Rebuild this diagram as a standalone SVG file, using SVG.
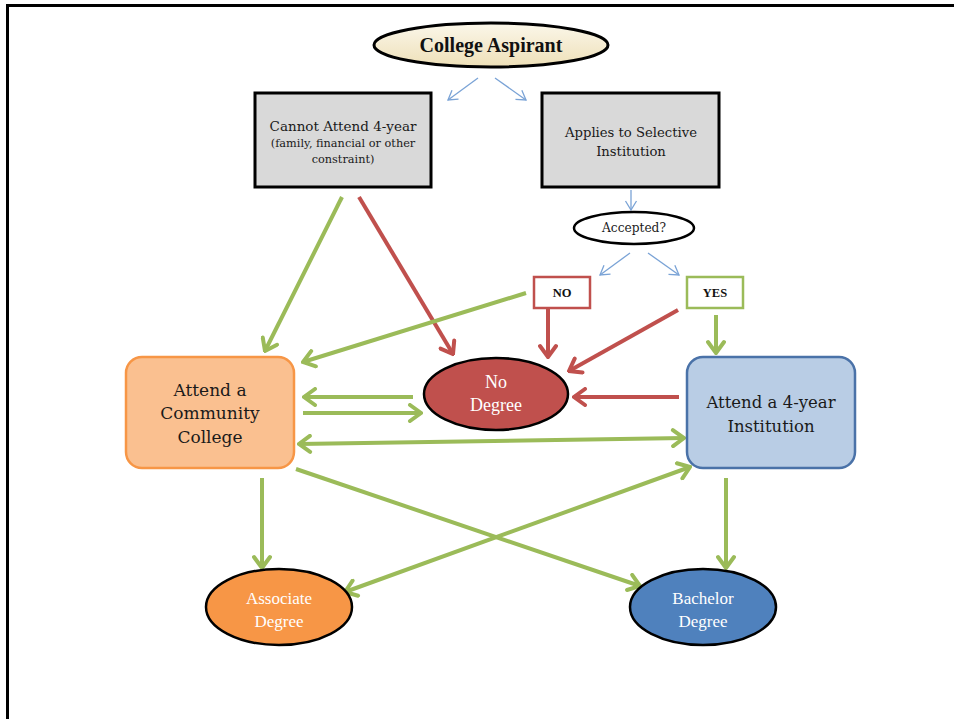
<svg xmlns="http://www.w3.org/2000/svg" width="954" height="719" viewBox="0 0 954 719">
<style>
.g{stroke:#9bbb59;stroke-width:4;fill:none}
.r{stroke:#c0504d;stroke-width:4;fill:none}
.b{stroke:#7aa3d6;stroke-width:1.3;fill:none}
.ds{font-family:"DejaVu Serif","Liberation Serif",serif;fill:#1a1a1a;text-anchor:middle}
.ls{font-family:"Liberation Serif","DejaVu Serif",serif;text-anchor:middle}
.w{fill:#fff}
</style>
<defs>
<linearGradient id="cream" x1="0" y1="0" x2="0" y2="1">
<stop offset="0" stop-color="#fbf7ea"/><stop offset="1" stop-color="#eee0b8"/>
</linearGradient>
<marker id="ag" markerUnits="userSpaceOnUse" viewBox="-14 -10 16 20" refX="0" refY="0" markerWidth="16" markerHeight="20" orient="auto-start-reverse">
<path d="M-11,-8 L0,0 L-11,8" fill="none" stroke="#9bbb59" stroke-width="4" stroke-linecap="round" stroke-linejoin="miter"/>
</marker>
<marker id="ar" markerUnits="userSpaceOnUse" viewBox="-14 -10 16 20" refX="0" refY="0" markerWidth="16" markerHeight="20" orient="auto">
<path d="M-11,-8 L0,0 L-11,8" fill="none" stroke="#c0504d" stroke-width="4" stroke-linecap="round"/>
</marker>
<marker id="ab" markerUnits="userSpaceOnUse" viewBox="-12 -8 14 16" refX="0" refY="0" markerWidth="14" markerHeight="16" orient="auto">
<path d="M-9,-5.5 L0,0 L-9,5.5" fill="none" stroke="#7aa3d6" stroke-width="1.3"/>
</marker>
</defs>
<rect width="954" height="719" fill="#fff"/>
<g id="frame" fill="none" stroke="#000">
<path d="M7.5,719 V5.5 H954" stroke-width="3"/>
</g>
<g id="connectors">
<line class="b" x1="478" y1="78" x2="448" y2="100" marker-end="url(#ab)"/>
<line class="b" x1="495" y1="78" x2="526" y2="100" marker-end="url(#ab)"/>
<line class="b" x1="631" y1="190" x2="631" y2="210" marker-end="url(#ab)"/>
<line class="b" x1="630" y1="253" x2="600" y2="275" marker-end="url(#ab)"/>
<line class="b" x1="648" y1="253" x2="679" y2="275" marker-end="url(#ab)"/>
<line class="g" x1="342" y1="197" x2="265" y2="351" marker-end="url(#ag)"/>
<line class="r" x1="359" y1="197" x2="453" y2="354" marker-end="url(#ar)"/>
<line class="g" x1="526" y1="293" x2="303" y2="362" marker-end="url(#ag)"/>
<line class="r" x1="548" y1="309" x2="548" y2="357" marker-end="url(#ar)"/>
<line class="r" x1="678" y1="310" x2="569" y2="371" marker-end="url(#ar)"/>
<line class="g" x1="716" y1="315" x2="716" y2="353" marker-end="url(#ag)"/>
<line class="r" x1="679" y1="397" x2="574" y2="397" marker-end="url(#ar)"/>
<line class="g" x1="413" y1="397" x2="304" y2="397" marker-end="url(#ag)"/>
<line class="g" x1="303" y1="413" x2="421" y2="413" marker-end="url(#ag)"/>
<line class="g" x1="299" y1="444" x2="684" y2="438" marker-start="url(#ag)" marker-end="url(#ag)"/>
<line class="g" x1="262" y1="478" x2="262" y2="568" marker-end="url(#ag)"/>
<line class="g" x1="296" y1="469" x2="640" y2="586" marker-end="url(#ag)"/>
<line class="g" x1="345" y1="592" x2="690" y2="467" marker-start="url(#ag)" marker-end="url(#ag)"/>
<line class="g" x1="726" y1="478" x2="726" y2="568" marker-end="url(#ag)"/>
</g>
<g id="college-aspirant">
<ellipse cx="491" cy="45" rx="117" ry="22" fill="url(#cream)" stroke="#000" stroke-width="3"/>
<text class="ls" x="491" y="52" font-size="20" font-weight="bold" fill="#111">College Aspirant</text>
</g>
<g id="cannot-attend">
<rect x="255" y="93" width="176" height="94" fill="#d9d9d9" stroke="#000" stroke-width="3"/>
<text class="ds" x="343" y="131" font-size="13.5">Cannot Attend 4-year</text>
<text class="ds" x="343" y="147" font-size="11.3">(family, financial or other</text>
<text class="ds" x="343" y="163" font-size="11.3">constraint)</text>
</g>
<g id="applies">
<rect x="542" y="93" width="177" height="94" fill="#d9d9d9" stroke="#000" stroke-width="3"/>
<text class="ds" x="631" y="137" font-size="13.2">Applies to Selective</text>
<text class="ds" x="631" y="156" font-size="13.2">Institution</text>
</g>
<g id="accepted">
<ellipse cx="634" cy="228" rx="60" ry="16" fill="#fff" stroke="#000" stroke-width="2.5"/>
<text class="ds" x="634" y="232" font-size="12.2">Accepted?</text>
</g>
<g id="no">
<rect x="534" y="277" width="56" height="31" fill="#fff" stroke="#c0504d" stroke-width="2.5"/>
<text class="ls" x="562" y="297" font-size="12.5" font-weight="bold" fill="#111">NO</text>
</g>
<g id="yes">
<rect x="687" y="277" width="56" height="31" fill="#fff" stroke="#9bbb59" stroke-width="2.5"/>
<text class="ls" x="715" y="297" font-size="12.5" font-weight="bold" fill="#111">YES</text>
</g>
<g id="community-college">
<rect x="126" y="357" width="168" height="111" rx="16" fill="#fac090" stroke="#f79646" stroke-width="2.5"/>
<text class="ds" x="210" y="396" font-size="17">Attend a</text>
<text class="ds" x="210" y="419" font-size="17">Community</text>
<text class="ds" x="210" y="443" font-size="17">College</text>
</g>
<g id="no-degree">
<ellipse cx="496" cy="394" rx="72" ry="36" fill="#c0504d" stroke="#000" stroke-width="2.5"/>
<text class="ls w" x="496" y="388" font-size="18">No</text>
<text class="ls w" x="496" y="411" font-size="18">Degree</text>
</g>
<g id="four-year">
<rect x="687" y="357" width="168" height="111" rx="16" fill="#b9cde5" stroke="#4a72a8" stroke-width="2.5"/>
<text class="ds" x="771" y="408" font-size="16.5">Attend a 4-year</text>
<text class="ds" x="771" y="432" font-size="16.5">Institution</text>
</g>
<g id="associate">
<ellipse cx="279" cy="607" rx="73" ry="38" fill="#f79646" stroke="#000" stroke-width="2.5"/>
<text class="ls w" x="279" y="604" font-size="17">Associate</text>
<text class="ls w" x="279" y="627" font-size="17">Degree</text>
</g>
<g id="bachelor">
<ellipse cx="703" cy="607" rx="73" ry="38" fill="#4f81bd" stroke="#000" stroke-width="2.5"/>
<text class="ls w" x="703" y="604" font-size="17">Bachelor</text>
<text class="ls w" x="703" y="627" font-size="17">Degree</text>
</g>
</svg>
